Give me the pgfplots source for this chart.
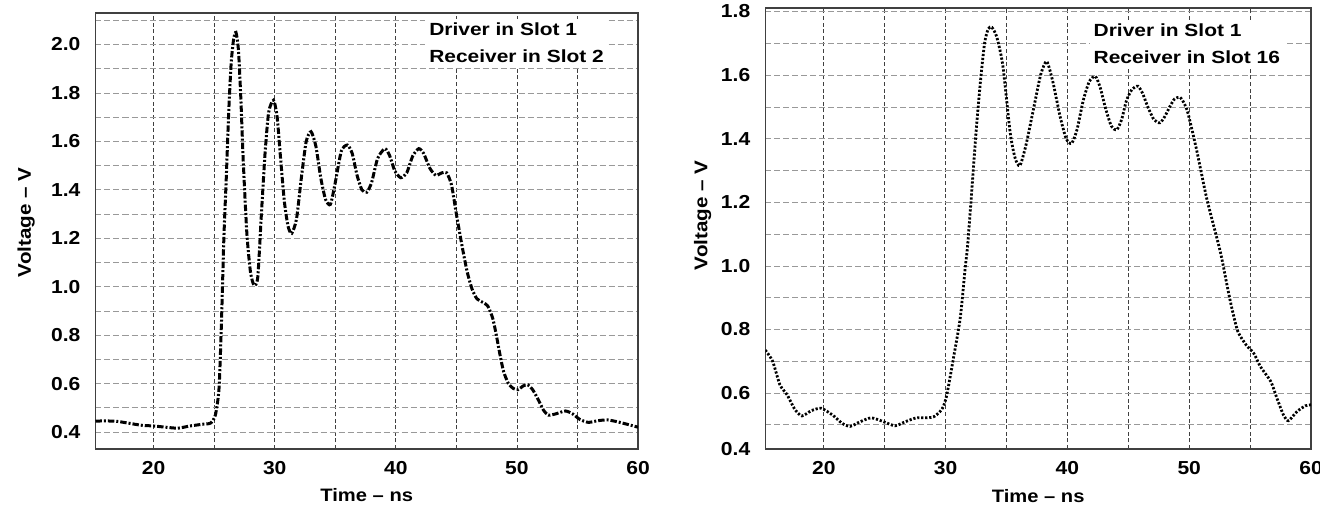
\documentclass[border=0pt]{standalone}
\usepackage{fontspec}
\setmainfont{Liberation Sans}[FakeStretch=1.12]
\newfontfamily\annfont{Liberation Sans}[FakeStretch=1.19]
\usepackage{pgfplots}
\pgfplotsset{compat=1.18}
\begin{document}
\begin{tikzpicture}
\useasboundingbox (0pt,0pt) rectangle (660pt,252pt);
\pgfplotsset{
  myax/.style={
    scale only axis,
    anchor=south west,
    xmin=15.2, xmax=60,
    xtick={20,30,40,50,60},
    minor xtick={25,35,45,55},
    grid=both,
    major grid style={black!75, line width=0.35pt, dash pattern=on 2pt off 1.3pt},
    minor grid style={black!75, line width=0.35pt, dash pattern=on 2pt off 1.3pt},
    every axis y grid/.style={gray!80, dash pattern=on 3pt off 1.5pt},
    axis line style={black!75, line width=0.6pt},
    tick style={draw=none},
    ticklabel style={font=\fontsize{9.4}{11}\selectfont\bfseries},
    /pgf/number format/assume math mode=true,
    xticklabel style={yshift=-2.5pt},
    yticklabel style={xshift=-4pt},
    xlabel={Time -- ns}, ylabel={Voltage -- V},
    every axis x label/.style={at={(axis description cs:0.5,-0.106)}, anchor=center,
       font=\fontsize{9}{11}\selectfont\bfseries},
    clip=true,
  }
}
% ---------- left ----------
\begin{axis}[myax,
  at={(47.75pt,27.5pt)}, width=271.25pt, height=218pt,
  ymin=0.33, ymax=2.13,
  ytick={0.4,0.6,0.8,1.0,1.2,1.4,1.6,1.8,2.0},
  yticklabels={0.4,0.6,0.8,1.0,1.2,1.4,1.6,1.8,2.0},
  minor ytick={0.5,0.7,0.9,1.1,1.3,1.5,1.7,1.9,2.1},
  every axis y label/.style={at={(axis description cs:-0.128,0.52)}, rotate=90, anchor=center,
       font=\fontsize{9.2}{11}\selectfont\bfseries},
]
\addplot[black, line width=1.5pt, dash pattern=on 3.2pt off 1pt on 1pt off 1pt, smooth, tension=0.4] coordinates {
(15.2,0.445) (16.0,0.446) (17.0,0.444) (18.0,0.436) (19.0,0.428) (20.0,0.425)
(21.0,0.42) (22.0,0.416) (23.0,0.425) (24.0,0.432) (24.7,0.437) (25.1,0.47)
(25.4,0.58) (25.6,0.85) (25.8,1.2) (26.0,1.45) (26.2,1.72) (26.4,1.92)
(26.6,2.02) (26.8,2.05) (27.0,1.98) (27.2,1.78) (27.4,1.52) (27.7,1.22)
(28.0,1.06) (28.3,1.005) (28.6,1.04) (28.9,1.3) (29.2,1.55) (29.5,1.72)
(29.9,1.77) (30.2,1.7) (30.5,1.52) (30.8,1.35) (31.1,1.25) (31.4,1.22)
(31.8,1.28) (32.2,1.45) (32.6,1.6) (33.0,1.64) (33.4,1.58) (33.8,1.45)
(34.2,1.36) (34.6,1.34) (35.0,1.43) (35.5,1.56) (36.0,1.585) (36.4,1.55)
(36.8,1.46) (37.2,1.40) (37.6,1.39) (38.0,1.43) (38.5,1.53) (39.1,1.57)
(39.5,1.54) (39.9,1.48) (40.4,1.45) (40.9,1.47) (41.4,1.54) (41.9,1.57)
(42.3,1.55) (42.8,1.49) (43.3,1.46) (43.8,1.47) (44.2,1.47) (44.6,1.42)
(45.0,1.3) (45.5,1.16) (45.9,1.06) (46.3,0.99) (46.7,0.95) (47.2,0.935)
(47.6,0.92) (48.0,0.87) (48.3,0.8) (48.6,0.72) (48.9,0.65) (49.3,0.6)
(49.7,0.58) (50.1,0.575) (50.5,0.59) (50.9,0.595) (51.3,0.575) (51.8,0.53)
(52.2,0.49) (52.6,0.47) (53.2,0.475) (54.0,0.487) (54.6,0.475) (55.2,0.452)
(55.9,0.44) (56.7,0.447) (57.5,0.45) (58.5,0.44) (60.0,0.42)
};
\node[fill=white, inner sep=2pt, anchor=north west, align=left,
      font=\annfont\fontsize{8.8}{13.3}\selectfont\bfseries] at (axis cs:42.4,2.106)
  {Driver in Slot 1\\Receiver in Slot 2};
\end{axis}
% ---------- right ----------
\begin{axis}[myax,
  at={(382.65pt,27.5pt)}, width=272.85pt, height=220.5pt,
  ymin=0.424, ymax=1.811,
  ytick={0.424,0.6,0.8,1.0,1.2,1.4,1.6,1.8},
  yticklabels={0.4,0.6,0.8,1.0,1.2,1.4,1.6,1.8},
  minor ytick={0.5,0.7,0.9,1.1,1.3,1.5,1.7},
  every axis y label/.style={at={(axis description cs:-0.115,0.53)}, rotate=90, anchor=center,
       font=\fontsize{9.2}{11}\selectfont\bfseries},
]
\addplot[black, line width=1.4pt, dash pattern=on 1.1pt off 0.9pt, smooth, tension=0.4] coordinates {
(15.2,0.735) (15.8,0.70) (16.4,0.626) (17.0,0.594) (17.6,0.55) (18.2,0.528)
(19.0,0.545) (19.8,0.552) (20.75,0.53) (21.5,0.505) (22.15,0.495) (23.0,0.51)
(23.9,0.522) (24.9,0.51) (25.85,0.497) (26.7,0.51) (27.6,0.522) (28.4,0.522)
(29.0,0.525) (29.5,0.54) (29.8,0.556) (30.1,0.594) (30.6,0.70) (31.2,0.835)
(31.6,0.99) (31.8,1.06) (32.1,1.21) (32.5,1.42) (32.85,1.575) (33.2,1.70)
(33.5,1.745) (33.8,1.75) (34.2,1.72) (34.7,1.63) (35.3,1.42) (35.7,1.34)
(36.1,1.315) (36.6,1.38) (37.2,1.49) (37.8,1.60) (38.3,1.643) (38.8,1.58)
(39.4,1.47) (39.9,1.40) (40.35,1.385) (40.8,1.43) (41.3,1.52) (41.8,1.58)
(42.3,1.596) (42.7,1.56) (43.1,1.50) (43.6,1.44) (44.05,1.428) (44.45,1.46)
(44.85,1.52) (45.3,1.555) (45.8,1.565) (46.2,1.54) (46.6,1.50) (47.1,1.46)
(47.6,1.45) (48.0,1.47) (48.4,1.50) (48.8,1.525) (49.25,1.53) (49.6,1.51)
(49.9,1.48) (50.6,1.366) (51.45,1.21) (52.55,1.045) (53.1,0.94) (53.5,0.867)
(54.0,0.793) (54.7,0.75) (55.3,0.725) (55.85,0.683) (56.7,0.636) (57.2,0.584)
(57.75,0.53) (58.15,0.513) (58.85,0.542) (59.55,0.56) (60.0,0.563)
};
\node[fill=white, inner sep=2pt, anchor=north west, align=left,
      font=\annfont\fontsize{8.8}{13.3}\selectfont\bfseries] at (axis cs:41.8,1.775)
  {Driver in Slot 1\\Receiver in Slot 16};
\end{axis}
\end{tikzpicture}
\end{document}
